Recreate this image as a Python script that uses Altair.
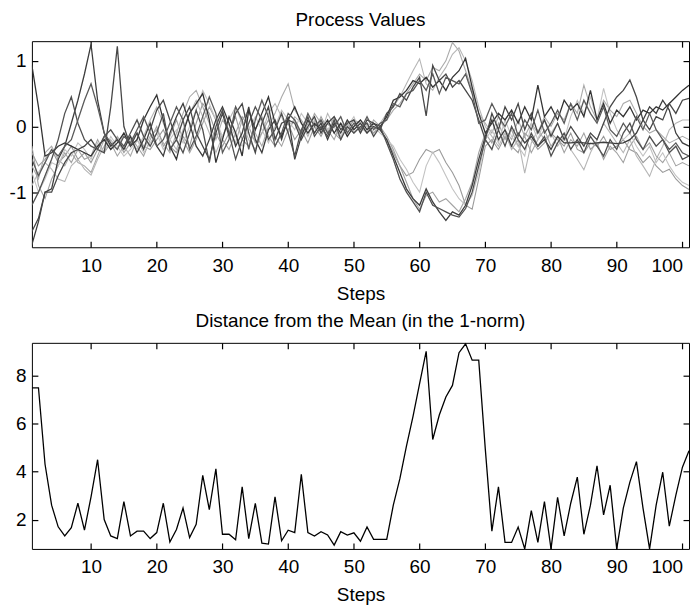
import altair as alt
import pandas as pd

# ---------------- data ----------------
steps = list(range(1, 102))

d1 = [0.93, 0.30, -0.45, -0.40, -0.30, -0.25, -0.30, -0.35, -0.40, -0.45,
      -0.30, -0.20, -0.35, -0.25, -0.10, -0.30, -0.20, 0.10, 0.30, 0.48,
      0.10, -0.30, -0.50, -0.10, 0.20, 0.35, 0.50, 0.10, -0.55, -0.20,
      0.15, -0.10, -0.45, 0.25, -0.05, 0.20, 0.45, 0.05, -0.15, 0.10,
      0.30, 0.05, -0.10, 0.05, -0.05, 0.10, -0.10, 0.05, -0.15, 0.00,
      0.10, -0.05, 0.05, 0.00, 0.15, 0.40, 0.45, 0.55, 0.70, 0.65,
      0.75, 0.60, 0.70, 0.55, 0.75, 0.85, 1.04, 0.60, 0.20, -0.10,
      0.05, 0.20, 0.10, 0.25, 0.05, 0.30, 0.10, 0.63, 0.15, 0.30,
      0.10, 0.40, 0.25, 0.35, 0.15, 0.55, 0.10, 0.35, 0.05, 0.25,
      0.15, 0.30, 0.10, 0.25, 0.20, 0.30, 0.25, 0.35, 0.45, 0.55,
      0.63]
d2 = [-1.80, -1.45, -1.00, -0.95, -0.50, -0.30, 0.05, 0.40, 0.80, 1.25,
      0.40, -0.10, -0.30, -0.20, -0.35, -0.15, -0.40, -0.20, 0.05, -0.30,
      -0.45, -0.10, 0.15, 0.35, 0.05, -0.30, -0.45, -0.20, 0.10, 0.30,
      0.05, -0.30, -0.10, 0.30, -0.20, -0.40, -0.05, 0.10, -0.20, 0.15,
      -0.50, -0.15, 0.10, -0.10, 0.05, -0.20, 0.05, -0.10, 0.10, -0.05,
      0.05, -0.10, 0.00, -0.05, -0.20, -0.45, -0.70, -0.95, -1.10, -1.20,
      -0.95, -1.15, -1.30, -1.43, -1.30, -1.35, -1.20, -0.90, -0.50, -0.15,
      0.10, -0.20, -0.05, -0.30, -0.10, -0.25, -0.15, -0.30, -0.20, -0.35,
      -0.15, -0.25, -0.25, -0.24, -0.25, -0.26, -0.25, -0.24, -0.25, -0.26,
      -0.25, -0.20, -0.10, 0.10, 0.30, 0.20, 0.40, 0.25, -0.10, -0.25,
      -0.30]
d3 = [-1.60, -1.40, -1.00, -1.00, -0.75, -0.55, -0.40, -0.35, -0.30, -0.20,
      -0.35, -0.40, 0.30, 1.22, 0.00, -0.30, -0.10, -0.35, -0.05, 0.25,
      0.40, 0.10, -0.20, 0.10, 0.30, -0.10, -0.30, -0.50, -0.10, 0.20,
      -0.15, 0.20, 0.35, -0.10, -0.40, 0.05, 0.30, -0.20, 0.05, 0.10,
      0.05, -0.20, 0.00, 0.15, -0.10, 0.05, 0.15, -0.05, 0.05, 0.10,
      -0.10, 0.10, 0.05, -0.05, 0.20, 0.30, 0.50, 0.40, 0.60, 0.75,
      0.16, 0.93, 0.70, 0.80, 0.60, 0.70, 0.55, 0.40, 0.10, -0.20,
      0.20, -0.05, 0.30, 0.10, 0.35, -0.05, 0.20, -0.10, 0.10, -0.15,
      0.05, -0.20, 0.00, -0.15, -0.30, -0.10, -0.20, 0.05, 0.30, 0.45,
      0.55, 0.71, 0.45, 0.10, -0.05, 0.15, 0.10, 0.35, 0.20, 0.40,
      0.43]
d4 = [-1.20, -1.00, -0.75, -0.50, -0.20, 0.20, 0.45, 0.05, -0.20, -0.30,
      -0.35, -0.15, -0.05, -0.20, -0.30, -0.10, 0.10, -0.15, -0.30, -0.10,
      0.20, -0.35, -0.20, -0.40, -0.10, 0.25, -0.05, -0.55, 0.00, 0.25,
      -0.10, -0.50, -0.20, 0.05, 0.30, 0.10, -0.20, -0.05, 0.20, -0.10,
      -0.45, -0.05, 0.15, -0.15, 0.00, -0.15, 0.10, -0.20, 0.00, -0.10,
      0.00, 0.05, -0.15, 0.00, -0.25, -0.50, -0.80, -1.00, -1.15, -1.30,
      -1.00, -1.20, -1.25, -1.30, -1.35, -1.38, -1.25, -1.00, -0.60, -0.20,
      -0.35, -0.05, -0.30, 0.00, -0.20, -0.35, -0.10, -0.30, -0.15, -0.45,
      -0.25, -0.10, -0.35, -0.20, -0.40, -0.15, -0.30, -0.45, -0.20, -0.35,
      -0.10, 0.05, -0.20, -0.35, -0.15, -0.30, -0.20, -0.40, -0.30, -0.50,
      -0.45]
d5 = [-0.50, -0.75, -0.55, -0.35, -0.45, -0.30, -0.20, 0.10, 0.40, 0.65,
      0.30, -0.10, -0.25, -0.35, -0.15, -0.25, -0.05, 0.15, -0.10, -0.30,
      -0.20, 0.05, 0.30, 0.10, -0.35, -0.15, 0.15, 0.45, 0.20, -0.40,
      -0.20, 0.30, 0.10, -0.35, 0.10, 0.40, 0.15, -0.30, -0.10, 0.20,
      0.10, -0.10, 0.20, 0.00, 0.10, -0.10, 0.00, 0.15, -0.10, 0.05,
      -0.05, 0.15, -0.05, 0.05, 0.10, 0.35, 0.30, 0.50, 0.55, 0.70,
      0.55, 0.80, 0.50, 0.75, 0.70, 0.65, 0.80, 0.50, 0.05, 0.10,
      0.35, 0.15, 0.00, 0.20, -0.15, 0.10, -0.05, 0.25, -0.10, 0.05,
      0.25, 0.05, 0.35, 0.10, 0.40, 0.20, 0.05, 0.30, -0.05, -0.15,
      0.05, -0.10, 0.15, -0.05, 0.20, -0.05, -0.20, -0.35, -0.25, -0.40,
      -0.45]
l1 = [-0.40, -0.60, -0.50, -0.35, -0.55, -0.45, -0.30, -0.50, -0.40, -0.55,
      -0.35, -0.15, -0.30, -0.20, -0.40, -0.25, -0.10, -0.30, -0.35, -0.20,
      -0.05, -0.30, -0.40, -0.15, -0.30, 0.05, 0.35, 0.20, -0.10, -0.30,
      -0.10, 0.15, -0.20, -0.30, -0.05, 0.15, -0.15, -0.30, -0.10, 0.05,
      -0.20, -0.05, -0.25, 0.00, -0.15, 0.05, -0.10, -0.20, 0.05, -0.10,
      0.00, -0.10, 0.05, -0.05, -0.20, -0.40, -0.60, -0.75, -0.70, -0.50,
      -0.35, -0.40, -0.35, -0.55, -0.70, -0.90, -1.20, -1.26, -0.80, -0.30,
      -0.20, -0.35, -0.15, -0.30, -0.40, -0.10, -0.20, -0.35, -0.25, -0.10,
      -0.20, -0.30, -0.10, -0.35, -0.40, -0.25, -0.30, -0.15, -0.35, -0.30,
      -0.20, -0.35, -0.40, -0.55, -0.45, -0.60, -0.70, -0.65, -0.80, -0.90,
      -0.96]
l2 = [-0.60, -0.80, -0.40, -0.30, -0.50, -0.60, -0.40, -0.55, -0.60, -0.70,
      -0.45, -0.20, -0.35, -0.15, -0.30, -0.45, -0.20, -0.35, -0.15, -0.05,
      -0.25, -0.40, -0.10, 0.20, 0.45, 0.55, 0.30, 0.05, -0.20, 0.10,
      -0.05, -0.25, 0.10, 0.25, -0.10, -0.30, 0.00, 0.20, 0.45, 0.65,
      0.25, 0.10, -0.05, 0.20, 0.05, -0.10, 0.15, 0.00, -0.05, 0.10,
      0.05, -0.10, 0.10, 0.00, 0.10, 0.25, 0.35, 0.50, 0.65, 0.80,
      0.70, 0.90, 0.85, 1.00, 1.28, 1.15, 0.85, 0.55, 0.20, 0.05,
      -0.10, 0.15, -0.05, -0.20, 0.10, -0.15, 0.05, -0.10, 0.15, 0.00,
      0.20, 0.10, 0.35, 0.20, 0.63, 0.30, 0.10, 0.40, 0.25, 0.15,
      0.35, 0.40, 0.20, 0.00, -0.10, -0.05, -0.15, -0.25, -0.20, -0.15,
      -0.20]
l3 = [-0.90, -0.70, -0.55, -0.65, -0.80, -0.84, -0.60, -0.50, -0.65, -0.74,
      -0.50, -0.30, -0.20, -0.35, -0.10, -0.20, -0.35, -0.15, 0.10, 0.30,
      0.05, -0.20, -0.35, -0.05, 0.20, 0.40, 0.15, -0.10, -0.40, -0.15,
      0.10, 0.30, 0.05, -0.20, -0.35, -0.10, 0.20, 0.35, 0.15, -0.10,
      0.15, 0.05, -0.15, 0.10, -0.10, 0.20, 0.00, -0.20, 0.10, -0.05,
      0.10, 0.00, -0.10, 0.05, 0.20, 0.30, 0.45, 0.65, 0.85, 1.03,
      0.65, 0.55, 0.75, 0.90, 1.10, 1.20, 1.00, 0.70, 0.30, 0.00,
      -0.15, -0.30, -0.10, -0.35, -0.20, -0.71, -0.25, -0.05, -0.20, -0.10,
      -0.30, -0.15, -0.35, -0.50, -0.66, -0.40, -0.20, 0.05, -0.10, -0.25,
      -0.40, -0.20, -0.45, -0.60, -0.76, -0.50, -0.30, -0.05, 0.05, 0.10,
      0.10]
l4 = [-0.30, -0.90, -1.10, -0.80, -0.60, -0.40, -0.55, -0.35, -0.50, -0.45,
      -0.20, -0.40, -0.25, -0.45, -0.30, -0.15, -0.30, -0.45, -0.20, 0.00,
      -0.30, -0.15, 0.10, -0.20, -0.40, -0.20, 0.05, 0.30, 0.10, -0.20,
      -0.35, -0.10, 0.15, 0.00, -0.25, -0.10, 0.10, -0.15, -0.30, -0.05,
      0.10, -0.15, 0.05, -0.10, 0.15, -0.05, -0.20, 0.05, -0.05, 0.10,
      -0.05, 0.05, -0.10, 0.00, -0.15, -0.35, -0.60, -0.85, -1.10, -1.26,
      -1.05, -1.00, -1.15, -1.10, -1.20, -1.30, -1.10, -0.85, -0.40, -0.10,
      -0.25, 0.05, -0.20, -0.05, -0.30, -0.15, -0.40, -0.20, -0.05, -0.30,
      -0.15, -0.40, -0.20, -0.30, -0.10, -0.35, -0.25, -0.50, -0.30, -0.40,
      -0.55, -0.30, -0.15, -0.35, -0.25, -0.45, -0.55, -0.40, -0.60, -0.55,
      -0.60]
l5 = [-0.70, -1.00, -0.80, -0.55, -0.60, -0.35, -0.45, -0.25, -0.35, -0.50,
      -0.25, -0.40, -0.15, -0.30, -0.45, -0.35, -0.20, -0.40, -0.25, -0.10,
      -0.35, -0.20, -0.05, -0.25, 0.00, 0.25, 0.55, 0.35, 0.10, -0.15,
      0.05, -0.15, -0.30, -0.05, 0.15, -0.05, -0.25, 0.00, 0.25, 0.10,
      -0.05, 0.20, 0.05, -0.10, 0.10, -0.05, 0.10, -0.15, 0.00, 0.15,
      -0.10, 0.05, 0.00, -0.10, -0.20, -0.30, -0.50, -0.65, -0.85, -1.00,
      -0.60, -0.39, -0.55, -0.75, -0.95, -1.10, -1.20, -1.05, -0.70, -0.20,
      -0.05, -0.25, 0.10, -0.15, -0.30, -0.45, 0.05, -0.20, 0.10, -0.10,
      0.05, -0.20, 0.15, 0.40, 0.20, 0.45, 0.10, 0.58, 0.20, -0.05,
      -0.20, -0.10, -0.30, -0.45, -0.30, -0.55, -0.40, -0.60, -0.75, -0.85,
      -0.90]

distance = [7.48, 7.48, 4.30, 2.60, 1.70, 1.32, 1.66, 2.68, 1.56, 2.95,
            4.49, 2.00, 1.32, 1.21, 2.75, 1.32, 1.52, 1.52, 1.21, 1.46,
            2.68, 1.07, 1.59, 2.48, 1.25, 1.80, 3.84, 2.41, 4.11, 1.39,
            1.39, 1.16, 3.36, 1.21, 2.68, 1.02, 0.98, 2.95, 1.12, 1.56,
            1.46, 3.88, 1.46, 1.32, 1.50, 1.36, 0.94, 1.50, 1.36, 1.45,
            1.10, 1.69, 1.18, 1.18, 1.18, 2.60, 3.70, 5.06, 6.29, 7.65,
            9.00, 5.33, 6.35, 7.10, 7.58, 8.94, 9.31, 8.63, 8.63, 4.93,
            1.52, 3.36, 1.05, 1.05, 1.69, 0.78, 2.37, 1.05, 2.75, 0.78,
            2.93, 1.32, 2.68, 3.77, 1.39, 2.60, 4.24, 2.20, 3.43, 0.78,
            2.48, 3.56, 4.41, 2.48, 0.78, 2.60, 3.97, 1.73, 3.02, 4.18,
            4.86]

series_names = ["d1", "d2", "d3", "d4", "d5", "l1", "l2", "l3", "l4", "l5"]
series_shade = ["dark"] * 5 + ["light"] * 5
series_colors = ["#333333", "#3d3d3d", "#474747", "#505050", "#5a5a5a",
                 "#9a9a9a", "#aaaaaa", "#b6b6b6", "#a2a2a2", "#c2c2c2"]
series_values = [d1, d2, d3, d4, d5, l1, l2, l3, l4, l5]

x_ticks = [10, 20, 30, 40, 50, 60, 70, 80, 90, 100]
x_domain = [1, 101]
top_y_ticks = [-1, 0, 1]
top_y_domain = [-1.84, 1.3]
bottom_y_ticks = [2, 4, 6, 8]
bottom_y_domain = [0.78, 9.35]

# ---------------- tables ----------------
rows = []
for name, shade, vals in zip(series_names, series_shade, series_values):
    for s, v in zip(steps, vals):
        rows.append({"step": s, "value": v, "series": name, "shade": shade})
proc_df = pd.DataFrame(rows)
dist_df = pd.DataFrame({"step": steps, "value": distance})

FONT = "Liberation Sans"
FS = 19
W, H = 660, 207
TL = 6
MINUS_FIX = "replace(datum.label, '\u2212', '-')"

x_scale = alt.Scale(domain=x_domain, nice=False, zero=False)


def x_main():
    return alt.X("step:Q", title="Steps", scale=x_scale,
                 axis=alt.Axis(values=x_ticks, orient="bottom", labelFlush=10))


def x_top():
    return alt.X("step:Q", title=None, scale=x_scale,
                 axis=alt.Axis(values=x_ticks, orient="top", labels=False))


def y_main(scale, ticks):
    return alt.Y("value:Q", title=None, scale=scale,
                 axis=alt.Axis(values=ticks, orient="left", labelExpr=MINUS_FIX))


def y_right(scale, ticks):
    return alt.Y("value:Q", title=None, scale=scale,
                 axis=alt.Axis(values=ticks, orient="right", labels=False))


def panel(layers_no_axis, axis_layer_src, frame_layer_src, y_scale, y_ticks, title):
    main = axis_layer_src.encode(x=x_main(), y=y_main(y_scale, y_ticks))
    others = [l.encode(x=alt.X("step:Q", scale=x_scale, axis=None),
                       y=alt.Y("value:Q", scale=y_scale, axis=None))
              for l in layers_no_axis]
    frame = frame_layer_src.encode(x=x_top(), y=y_right(y_scale, y_ticks))
    return alt.layer(main, *others, frame).resolve_axis(
        x="independent", y="independent"
    ).properties(width=W, height=H, title=alt.TitleParams(title))


color_enc = alt.Color("series:N", legend=None,
                      scale=alt.Scale(domain=series_names, range=series_colors))

light = alt.Chart(proc_df).transform_filter(alt.datum.shade == "light").mark_line(
    strokeWidth=1.1, clip=True).encode(color=color_enc, detail="series:N")
dark = alt.Chart(proc_df).transform_filter(alt.datum.shade == "dark").mark_line(
    strokeWidth=1.3, clip=True).encode(color=color_enc, detail="series:N")
top_frame = alt.Chart(proc_df).mark_point(opacity=0, size=1)

top_scale = alt.Scale(domain=top_y_domain, nice=False, zero=False)
top = panel([dark], light, top_frame, top_scale, top_y_ticks, "Process Values")

dist_line = alt.Chart(dist_df).mark_line(color="black", strokeWidth=1.3, clip=True)
bottom_frame = alt.Chart(dist_df).mark_point(opacity=0, size=1)
bottom_scale = alt.Scale(domain=bottom_y_domain, nice=False, zero=False)
bottom = panel([], dist_line, bottom_frame, bottom_scale, bottom_y_ticks,
               "Distance from the Mean (in the 1-norm)")

chart = alt.vconcat(top, bottom, spacing=7).properties(
    padding={"left": 0, "top": 0, "right": 0, "bottom": 0},
    background="white",
).configure_view(
    stroke="black", strokeWidth=1
).configure_axis(
    grid=False, domain=False, ticks=True, tickSize=TL, tickColor="black", tickWidth=1.2,
    offset=-TL,
    labelFont=FONT, labelFontSize=FS, labelColor="black",
    titleFont=FONT, titleFontSize=FS, titleFontWeight="normal", titleColor="black",
    titlePadding=9,
).configure_axisX(
    labelPadding=9
).configure_axisY(
    labelPadding=6
).configure_title(
    font=FONT, fontSize=FS, fontWeight="normal", color="black", offset=11, anchor="middle"
)

chart.save("out.html", embed_options={"renderer": "svg", "actions": False})
